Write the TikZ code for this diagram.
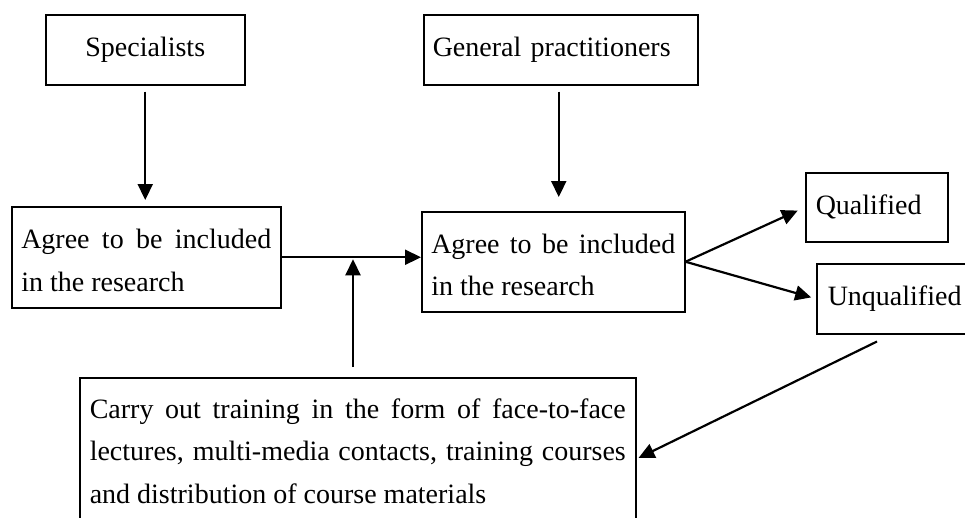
\documentclass[tikz,border=0pt]{standalone}
\usepackage{fontspec}
\setmainfont{Liberation Serif}
\usetikzlibrary{arrows.meta}
\begin{document}
\begin{tikzpicture}[x=1pt,y=-1pt,
  box/.style={draw, line width=1.5pt, font=\fontsize{28}{42.5}\selectfont, inner ysep=0pt},
  arr/.style={line width=2.2pt, -{Triangle[length=16pt,width=15pt]}}]
\useasboundingbox (0,0) rectangle (965,517);
\clip (0,0) rectangle (965,517);
\node[box, anchor=north west, minimum width=199pt, minimum height=70pt] (spec) at (45,14) {Specialists};
\node[box, anchor=north west, minimum height=70pt, text width=256pt, inner xsep=9pt, align=left] (gp) at (423,14) {General practitioners};
\node[box, anchor=north west, minimum height=101pt, text width=250pt, inner xsep=9.5pt, align=justify] (l) at (11,206) {\rule{0pt}{26pt}Agree to be included\linebreak in the research};
\node[box, anchor=north west, minimum height=100pt, text width=244pt, inner xsep=9.5pt, align=justify] (m) at (421,211) {\rule{0pt}{26pt}Agree to be included\linebreak in the research};
\node[box, anchor=north west, minimum height=69pt, text width=122pt, inner xsep=10pt, align=left] (q) at (805,172) {Qualified};
\node[box, anchor=north west, minimum height=70pt, text width=150pt, inner xsep=11pt, align=left] (u) at (816,263) {Unqualified};
\node[box, anchor=north west, text width=536pt, inner xsep=10pt, inner ysep=21pt, align=justify] (t) at (79,377) {Carry out training in the form of face-to-face\linebreak lectures, multi-media contacts, training courses\linebreak and distribution of course materials};
\coordinate (jx) at (353,0);
\coordinate (ua) at ([xshift=61pt,yshift=-7pt]u.south west);
\coordinate (tb) at ([xshift=2pt,yshift=-81pt]t.north east);
\draw[arr, shorten <=6pt, shorten >=6pt] (spec.south) -- (spec.south |- l.north);
\draw[arr, shorten <=6pt, shorten >=14pt] ([xshift=-2pt]gp.south) -- ([xshift=-2pt]gp.south |- m.north);
\draw[arr] (l.east) -- (l.east -| m.west);
\draw[arr, shorten <=10pt, shorten >=2pt] (jx |- t.north) -- (jx |- l.east);
\draw[arr, shorten >=8pt] (m.east) -- (q.west);
\draw[arr, shorten >=5pt] (m.east) -- (u.west);
\draw[arr] (ua) -- (tb);
\end{tikzpicture}
\end{document}
